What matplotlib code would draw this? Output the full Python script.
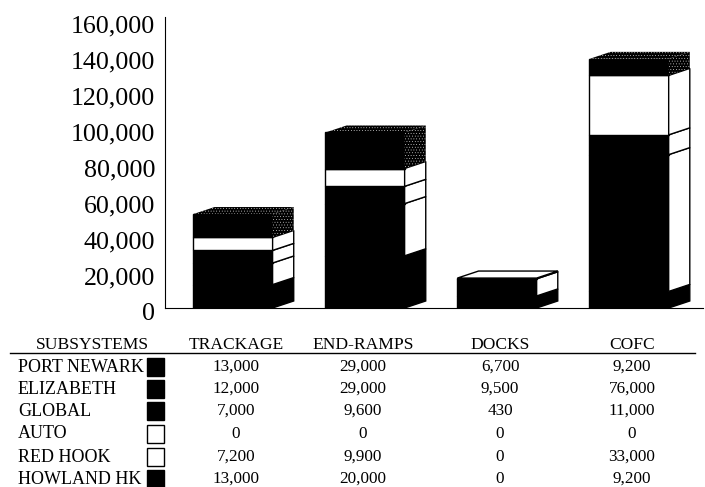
import matplotlib
matplotlib.use("Agg")
import matplotlib.pyplot as plt
import matplotlib.transforms as mtrans
from matplotlib.patches import Polygon, Rectangle

W, H = 705, 487

categories = ["TRACKAGE", "END-RAMPS", "DOCKS", "COFC"]
subsystems = ["PORT NEWARK", "ELIZABETH", "GLOBAL", "AUTO", "RED HOOK", "HOWLAND HK"]
port_newark = [13000, 29000, 6700, 9200]
elizabeth = [12000, 29000, 9500, 76000]
global_ = [7000, 9600, 430, 11000]
auto = [0, 0, 0, 0]
red_hook = [7200, 9900, 0, 33000]
howland = [13000, 20000, 0, 9200]
yticks = [0, 20000, 40000, 60000, 80000, 100000, 120000, 140000, 160000]

series = [port_newark, elizabeth, global_, auto, red_hook, howland]
front_color = ["black", "black", "black", "white", "white", "black"]
side_color = ["black", "white", "white", "white", "white", "black"]
top_color = ["black", "white", "white", "white", "white", "black"]
speckled = [False, False, False, False, False, True]

# bar geometry in axis units
BAR_W = 0.60
DX = 0.16
DY = 3900

# table layout, in reference pixels
COL_X = [236, 363, 500, 632]
ROW_Y = [367, 389, 411, 434, 457, 479]

plt.rcParams["font.family"] = ["Liberation Serif"]
plt.rcParams["hatch.linewidth"] = 0.2

fig = plt.figure(figsize=(W / 100, H / 100), dpi=100)
ax = fig.add_axes([165 / W, (H - 308) / H, 538 / W, 288 / H])
ax.set_xlim(-0.515, 3.56)
ax.set_ylim(0, 160000)
ax.spines[["top", "right"]].set_visible(False)
ax.spines["left"].set_bounds(0, 161500)
ax.spines["left"].set_clip_on(False)
ax.set_xticks([])
ax.set_yticks(yticks)
ax.set_yticklabels([f"{v:,}" for v in yticks], fontsize=18.7)
ax.tick_params(axis="y", length=0, pad=7)
# printed labels sit a little below their gridline position
shift = mtrans.ScaledTranslation(0, -4 / 100, fig.dpi_scale_trans)
for lab in ax.get_yticklabels():
    lab.set_transform(lab.get_transform() + shift)


def poly(points, face, dotted=False, lw=1.0):
    if dotted:
        ax.add_patch(Polygon(points, facecolor="black", edgecolor="white",
                             hatch="......", linewidth=0, zorder=2))
    else:
        ax.add_patch(Polygon(points, facecolor=face, edgecolor="black",
                             linewidth=lw, zorder=2))


for i in range(len(categories)):
    left = i - BAR_W / 2
    right = i + BAR_W / 2
    base = 0
    last = 0
    for j, s in enumerate(series):
        v = s[i]
        if v == 0:
            continue
        top = base + v
        poly([(left, base), (right, base), (right, top), (left, top)], front_color[j])
        poly([(right, base), (right + DX, base + DY), (right + DX, top + DY), (right, top)],
             side_color[j], dotted=speckled[j])
        base = top
        last = j
    poly([(left, base), (right, base), (right + DX, base + DY), (left + DX, base + DY)],
         top_color[last], dotted=speckled[last])


def px_text(x, y, s, **kw):
    fig.text(x / W, 1 - y / H, s, va="center", color="black", **kw)


# table under the chart
px_text(92, 345, "SUBSYSTEMS", ha="center", fontsize=12.6)
for x, c in zip(COL_X, categories):
    px_text(x, 345, c, ha="center", fontsize=12.6)
fig.add_artist(plt.Line2D([10 / W, 695 / W], [1 - 353 / H] * 2, color="black", linewidth=1.0))

for r, name in enumerate(subsystems):
    px_text(18, ROW_Y[r], name, ha="left", fontsize=13)
    fig.add_artist(Rectangle((147 / W, 1 - (ROW_Y[r] + 9) / H), 17 / W, 18 / H,
                             transform=fig.transFigure, facecolor=front_color[r],
                             edgecolor="black", linewidth=1.0))
    for x, s in zip(COL_X, series[r]):
        px_text(x, ROW_Y[r], f"{s:,}", ha="center", fontsize=12.3)

fig.savefig("out.png", dpi=100)
